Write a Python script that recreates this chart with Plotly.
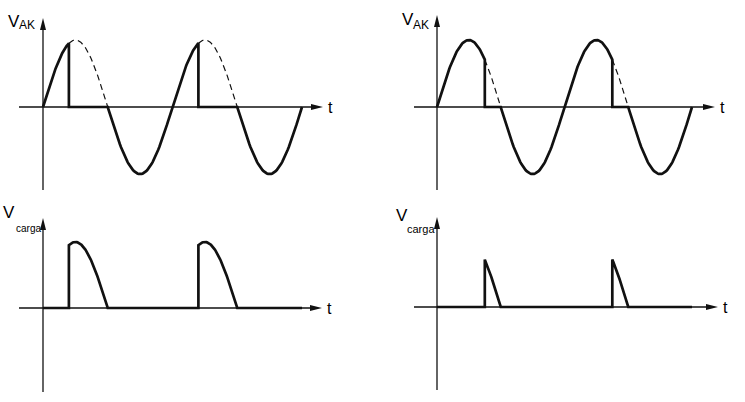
import numpy as np
import plotly.graph_objects as go

# ---------------- data ----------------
firing_angles_deg = [72, 135]      # left column, right column (thyristor firing angle)
amplitude = 1.0                    # normalised supply peak
n_cycles = 2                       # cycles drawn
top_label = ("V", "AK")
bottom_label = ("V", "carga")
time_label = "t"

# ---------------- layout geometry (pixels) ----------------
W, H = 745, 402
INK = "#111111"
FONT = "Liberation Sans, Arial, Helvetica, sans-serif"

panels = [
    # top-left
    dict(ax="x", ay="y", dx=(0, 372.5), dy=(0, 201), ox=43, oy=107, half=64.75, amp=67,
         xa=(19, 323), ya=(190, 18), kind="ak", col=0),
    # top-right
    dict(ax="x2", ay="y2", dx=(372.5, 745), dy=(0, 201), ox=437, oy=107, half=63.75, amp=67,
         xa=(414, 715), ya=(190, 15), kind="ak", col=1),
    # bottom-left
    dict(ax="x3", ay="y3", dx=(0, 372.5), dy=(201, 402), ox=43, oy=308, half=64.75, amp=66,
         xa=(19, 322), ya=(392, 218), kind="load", col=0),
    # bottom-right
    dict(ax="x4", ay="y4", dx=(372.5, 745), dy=(201, 402), ox=437, oy=307, half=63.75, amp=67,
         xa=(414, 718), ya=(390, 217), kind="load", col=1),
]


def sine_seg(a, b, n=60):
    th = np.linspace(a, b, n)
    return list(th), list(amplitude * np.sin(np.radians(th)))


def vak_wave(alpha):
    xs, ys = [], []
    for k in range(n_cycles):
        base = 360 * k
        x, y = sine_seg(base, base + alpha)
        xs += x; ys += y
        xs += [base + alpha, base + 180]; ys += [0, 0]
        x, y = sine_seg(base + 180, base + 360)
        xs += x; ys += y
    return xs, ys


def vak_dashed(alpha):
    xs, ys = [], []
    for k in range(n_cycles):
        base = 360 * k
        x, y = sine_seg(base + alpha, base + 180)
        xs += x + [None]; ys += y + [None]
    return xs, ys


def load_wave(alpha):
    xs, ys = [0], [0]
    for k in range(n_cycles):
        base = 360 * k
        xs += [base + alpha]; ys += [0]
        x, y = sine_seg(base + alpha, base + 180)
        xs += x; ys += y
    xs += [360 * n_cycles]; ys += [0]
    return xs, ys


fig = go.Figure()
layout = dict(width=W, height=H, margin=dict(l=0, r=0, t=0, b=0),
              paper_bgcolor="white", plot_bgcolor="white", showlegend=False)
shapes = []
annotations = []

for p in panels:
    kx = p["half"] / 180.0
    ky = p["amp"]
    xr = [(p["dx"][0] - p["ox"]) / kx, (p["dx"][1] - p["ox"]) / kx]
    yr = [(p["oy"] - p["dy"][1]) / ky, (p["oy"] - p["dy"][0]) / ky]
    xname = "xaxis" + p["ax"][1:]
    yname = "yaxis" + p["ay"][1:]
    layout[xname] = dict(domain=[p["dx"][0] / W, p["dx"][1] / W], range=xr, visible=False,
                         anchor=p["ay"], fixedrange=True)
    layout[yname] = dict(domain=[1 - p["dy"][1] / H, 1 - p["dy"][0] / H], range=yr, visible=False,
                         anchor=p["ax"], fixedrange=True)

    # axes lines
    x0a, x1a = [(v - p["ox"]) / kx for v in p["xa"]]
    y0a, y1a = [(p["oy"] - v) / ky for v in p["ya"]]
    fig.add_trace(go.Scatter(x=[x0a, x1a - 6 / kx], y=[0, 0], mode="lines",
                             line=dict(color=INK, width=1.3), xaxis=p["ax"], yaxis=p["ay"],
                             hoverinfo="skip"))
    fig.add_trace(go.Scatter(x=[0, 0], y=[y0a, y1a - 6 / ky], mode="lines",
                             line=dict(color=INK, width=1.3), xaxis=p["ax"], yaxis=p["ay"],
                             hoverinfo="skip"))
    # arrow heads (pixel sized)
    shapes.append(dict(type="path", xref=p["ax"], yref=p["ay"], xsizemode="pixel", ysizemode="pixel",
                       xanchor=x1a, yanchor=0, path="M0,0 L-12,3 L-12,-3 Z",
                       fillcolor=INK, line=dict(width=0)))
    shapes.append(dict(type="path", xref=p["ax"], yref=p["ay"], xsizemode="pixel", ysizemode="pixel",
                       xanchor=0, yanchor=y1a, path="M0,0 L-3,-12 L3,-12 Z",
                       fillcolor=INK, line=dict(width=0)))

    alpha = firing_angles_deg[p["col"]]
    if p["kind"] == "ak":
        xd, yd = vak_dashed(alpha)
        fig.add_trace(go.Scatter(x=xd, y=yd, mode="lines",
                                 line=dict(color=INK, width=1.2, dash="6px,4px"),
                                 xaxis=p["ax"], yaxis=p["ay"], hoverinfo="skip"))
        xw, yw = vak_wave(alpha)
    else:
        xw, yw = load_wave(alpha)
    fig.add_trace(go.Scatter(x=xw, y=yw, mode="lines",
                             line=dict(color=INK, width=2.7, shape="linear"),
                             xaxis=p["ax"], yaxis=p["ay"], hoverinfo="skip"))

    # "t" label
    annotations.append(dict(x=(p["xa"][1] + 4) / W, y=1 - (p["oy"] + 0) / H, xref="paper", yref="paper",
                            text=time_label, showarrow=False, xanchor="left", yanchor="middle",
                            borderpad=0, font=dict(family=FONT, size=16, color="black")))

# axis name labels (pixel positions from reference)
label_pos = [
    # (V left x, V baseline y, sub left x, sub baseline y, sub font size, text tuple)
    (8, 29, 19, 31, 12, top_label),
    (402, 27, 413, 31, 12, top_label),
    (3, 220, 16, 233, 10, bottom_label),
    (396, 223, 407, 234, 11, bottom_label),
]
for vx, vy, sx, sy, ss, (main, sub) in label_pos:
    annotations.append(dict(x=(vx - 1) / W, y=1 - (vy + 3) / H, xref="paper", yref="paper",
                            text=main, showarrow=False, xanchor="left", yanchor="bottom",
                            borderpad=0, font=dict(family=FONT, size=17, color="black")))
    annotations.append(dict(x=(sx - 1) / W, y=1 - (sy + 2) / H, xref="paper", yref="paper",
                            text=sub, showarrow=False, xanchor="left", yanchor="bottom",
                            borderpad=0, font=dict(family=FONT, size=ss, color="black")))

layout["shapes"] = shapes
layout["annotations"] = annotations
fig.update_layout(**layout)
fig.write_html("out.html", config={"displayModeBar": False, "staticPlot": True},
               post_script="document.body.style.margin='0px';document.body.style.overflow='hidden';")
